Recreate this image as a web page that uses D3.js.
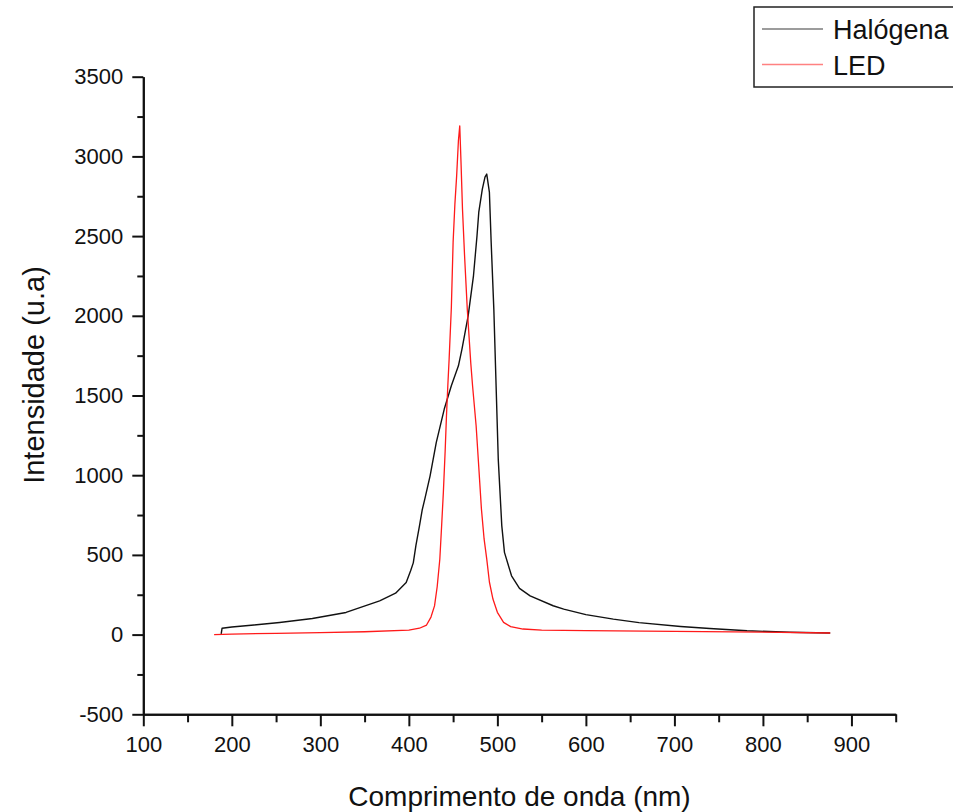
<!DOCTYPE html>
<html>
<head>
<meta charset="utf-8">
<script src="https://cdn.jsdelivr.net/npm/d3@7"></script>
<style>
  body { margin: 0; background: #fff; }
  text { font-family: "Liberation Sans", Arial, sans-serif; fill: #111; }
</style>
</head>
<body>
<div id="chart-area"></div>
<script>
// Data (wavelength in nm, intensity in a.u.)
var halogenWl  = [188, 189, 200, 225, 254, 291, 329, 367, 385, 397, 402, 405, 408, 412, 415, 418, 424, 431, 440, 448, 456, 460, 463, 467, 473, 477, 479, 483, 486, 488, 491, 493, 496, 498, 501, 505, 508, 516, 525, 537, 563, 575, 600, 631, 660, 707, 740, 782, 830, 876];
var halogenInt = [5, 40, 48, 60, 76, 101, 139, 212, 260, 327, 400, 450, 560, 682, 780, 850, 996, 1206, 1415, 1561, 1686, 1791, 1880, 2000, 2251, 2502, 2650, 2795, 2870, 2889, 2774, 2460, 2042, 1666, 1101, 682, 516, 369, 290, 243, 181, 160, 125, 97, 75, 51, 38, 24, 15, 10];

var ledWl  = [180, 200, 250, 300, 350, 400, 412, 420, 425, 429, 432, 435, 437, 439, 441, 442.5, 444, 445.5, 448, 450, 452, 454, 456, 457.5, 459, 460.6, 463, 466, 470, 472, 476, 479, 482, 485, 488, 491, 495, 500, 507, 515, 529, 550, 600, 700, 800, 876];
var ledInt = [0, 3, 8, 12, 18, 28, 40, 60, 110, 180, 300, 474, 680, 894, 1150, 1373, 1560, 1728, 2050, 2462, 2700, 2878, 3100, 3192, 2950, 2669, 2370, 2042, 1700, 1560, 1310, 1050, 787, 600, 474, 330, 223, 140, 77, 50, 35, 28, 25, 20, 15, 10];

var seriesNames = ["Halógena", "LED"];
var seriesColors = ["#111111", "#ff1a1a"];

var xMajor = d3.range(100, 901, 100);
var xMinor = d3.range(150, 951, 100);
var yMajor = d3.range(-500, 3501, 500);
var yMinor = d3.range(-250, 3500, 500);

var W = 953, H = 812;
var margin = {top: 76.7, left: 143.3, right: 953 - 895.7, bottom: 812 - 714.3};
var width = W - margin.left - margin.right,
    height = H - margin.top - margin.bottom;

var svg = d3.select("#chart-area").append("svg")
    .attr("width", W)
    .attr("height", H);

var g = svg.append("g")
    .attr("transform", "translate(" + margin.left + "," + margin.top + ")");

// Scales
var x = d3.scaleLinear().domain([100, 950]).range([0, width]);
var y = d3.scaleLinear().domain([-500, 3500]).range([height, 0]);

// Axes
var xAxis = d3.axisBottom(x).tickValues(xMajor).tickSize(12).tickSizeOuter(0)
    .tickPadding(10).tickFormat(d => String(d));
var yAxis = d3.axisLeft(y).tickValues(yMajor).tickSize(11).tickSizeOuter(0)
    .tickPadding(9).tickFormat(d => String(d));

var xAxisGroup = g.append("g")
    .attr("transform", "translate(0," + height + ")")
    .call(xAxis);
g.append("g")
    .attr("transform", "translate(0," + height + ")")
    .call(d3.axisBottom(x).tickValues(xMinor).tickSize(8).tickSizeOuter(0).tickFormat(""));

var yAxisGroup = g.append("g").call(yAxis);
g.append("g")
    .call(d3.axisLeft(y).tickValues(yMinor).tickSize(6).tickSizeOuter(0).tickFormat(""));

g.selectAll(".domain").attr("stroke", "#111").attr("stroke-width", 2);
g.selectAll(".tick line").attr("stroke", "#111").attr("stroke-width", 2);
xAxisGroup.selectAll("text").attr("font-size", 22).style("font-family", "Liberation Sans, Arial, sans-serif");
yAxisGroup.selectAll("text").attr("font-size", 22).style("font-family", "Liberation Sans, Arial, sans-serif");

// Lines
var line = d3.line()
    .x(d => x(d[0]))
    .y(d => y(d[1]));

var halogenData = halogenWl.map((w, i) => [w, halogenInt[i]]);
var ledData = ledWl.map((w, i) => [w, ledInt[i]]);

g.append("path")
    .datum(halogenData)
    .attr("fill", "none")
    .attr("stroke", seriesColors[0])
    .attr("stroke-width", 1.4)
    .attr("stroke-linejoin", "round")
    .attr("d", line);

g.append("path")
    .datum(ledData)
    .attr("fill", "none")
    .attr("stroke", seriesColors[1])
    .attr("stroke-width", 1.3)
    .attr("stroke-linejoin", "round")
    .attr("d", line);

// Axis titles
svg.append("text")
    .attr("x", margin.left + width * 0.5 - 0)
    .attr("y", 806)
    .attr("text-anchor", "middle")
    .attr("font-size", 28)
    .text("Comprimento de onda (nm)");

svg.append("text")
    .attr("transform", "translate(44,375) rotate(-90)")
    .attr("text-anchor", "middle")
    .attr("font-size", 29)
    .text("Intensidade (u.a)");

// Legend
var legend = svg.append("g");
legend.append("rect")
    .attr("x", 754).attr("y", 7)
    .attr("width", 230).attr("height", 80)
    .attr("fill", "#fff")
    .attr("stroke", "#222")
    .attr("stroke-width", 1.5);

seriesNames.forEach(function(name, i) {
    var ly = 29 + i * 35.5;
    legend.append("line")
        .attr("x1", 762).attr("x2", 823)
        .attr("y1", ly).attr("y2", ly)
        .attr("stroke", seriesColors[i])
        .attr("stroke-opacity", 0.55)
        .attr("stroke-width", 1.3);
    legend.append("text")
        .attr("x", 833).attr("y", ly + 10)
        .attr("font-size", 27)
        .text(name);
});
</script>
</body>
</html>
